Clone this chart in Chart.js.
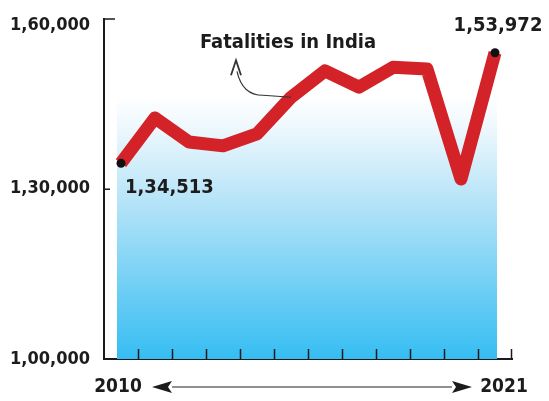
<!DOCTYPE html>
<html>
<head>
<meta charset="utf-8">
<script src="https://cdn.jsdelivr.net/npm/chart.js@4.4.1/dist/chart.umd.min.js"></script>
<style>
  html, body { margin: 0; padding: 0; background: #fff; }
  #wrap { width: 549px; height: 401px; position: relative; }
</style>
</head>
<body>
<div id="wrap"><canvas id="fatalChart"></canvas></div>
<script>
const years = ['2010', '2011', '2012', '2013', '2014', '2015', '2016', '2017', '2018', '2019', '2020', '2021'];
const fatalities = [134513, 142485, 138258, 137572, 139671, 146133, 150785, 147913, 151417, 151113, 131714, 153972];
const yTicks = [100000, 130000, 160000];
const seriesTitle = 'Fatalities in India';

const FONT = '"DejaVu Sans Condensed", "DejaVu Sans", sans-serif';
const INK = '#1c1c1c';

// indian digit grouping: 1,34,513
function inr(n) {
  const s = String(Math.round(n));
  const last3 = s.slice(-3);
  const rest = s.slice(0, -3);
  return rest ? rest.replace(/\B(?=(\d{2})+(?!\d))/g, ',') + ',' + last3 : last3;
}

const decor = {
  id: 'decor',
  beforeDatasetsDraw(chart) {
    const { ctx, chartArea, scales: { x } } = chart;
    const x0 = x.getPixelForValue(0) - 4;
    const x1 = x.getPixelForValue(years.length - 1) + 2;
    const top = 95;
    const g = ctx.createLinearGradient(0, top, 0, chartArea.bottom);
    g.addColorStop(0, 'rgba(255,255,255,1)');
    g.addColorStop(0.12, '#eef8fd');
    g.addColorStop(0.4, '#b6e4f8');
    g.addColorStop(1, '#36bdf2');
    ctx.save();
    ctx.fillStyle = g;
    ctx.fillRect(x0, top, x1 - x0, chartArea.bottom - top);
    ctx.restore();
  },
  afterDatasetsDraw(chart) {
    const { ctx, chartArea, scales: { x, y } } = chart;
    const last = years.length - 1;
    ctx.save();

    // inward ticks on both axes
    ctx.strokeStyle = '#1b1b1b';
    ctx.lineWidth = 1.5;
    ctx.beginPath();
    for (let i = 0; i < last; i++) {
      const tx = Math.round((x.getPixelForValue(i) + x.getPixelForValue(i + 1)) / 2) + 0.5;
      ctx.moveTo(tx, chartArea.bottom);
      ctx.lineTo(tx, chartArea.bottom - 10);
    }
    ctx.moveTo(chartArea.right - 0.5, chartArea.bottom);
    ctx.lineTo(chartArea.right - 0.5, chartArea.bottom - 10);
    ctx.moveTo(chartArea.left, y.getPixelForValue(yTicks[2]) + 0.5);
    ctx.lineTo(chartArea.left + 11, y.getPixelForValue(yTicks[2]) + 0.5);
    ctx.moveTo(chartArea.left, y.getPixelForValue(yTicks[1]) + 0.5);
    ctx.lineTo(chartArea.left + 6, y.getPixelForValue(yTicks[1]) + 0.5);
    ctx.stroke();

    // end value labels
    ctx.fillStyle = INK;
    ctx.font = 'bold 20px ' + FONT;
    ctx.textBaseline = 'middle';
    ctx.textAlign = 'left';
    ctx.fillText(inr(fatalities[0]), x.getPixelForValue(0) + 4, y.getPixelForValue(fatalities[0]) + 25);
    ctx.textAlign = 'center';
    ctx.fillText(inr(fatalities[last]), x.getPixelForValue(last) + 3, y.getPixelForValue(fatalities[last]) - 27);

    // series annotation with curved pointer
    const ax = x.getPixelForValue(5);
    const ay = y.getPixelForValue(fatalities[5]);
    ctx.font = 'bold 20px ' + FONT;
    ctx.textAlign = 'center';
    ctx.fillText(seriesTitle, ax - 3, ay - 54);
    ctx.strokeStyle = '#333';
    ctx.lineWidth = 1.2;
    ctx.beginPath();
    ctx.moveTo(ax - 54, ay - 26);
    ctx.bezierCurveTo(ax - 50, ay - 8, ax - 40, ay - 2, ax - 28, ay - 2);
    ctx.lineTo(ax, ay);
    ctx.stroke();
    ctx.lineWidth = 1.8;
    ctx.beginPath();
    ctx.moveTo(ax - 60, ay - 22);
    ctx.lineTo(ax - 55, ay - 37);
    ctx.lineTo(ax - 50, ay - 22);
    ctx.stroke();

    // timeline arrow under the axis
    const ly = chartArea.bottom + 28;
    const lx0 = x.getPixelForValue(0) + 51;
    const lx1 = x.getPixelForValue(last) - 43;
    ctx.fillStyle = INK;
    ctx.strokeStyle = '#222';
    ctx.lineWidth = 1.2;
    ctx.beginPath();
    ctx.moveTo(lx0, ly);
    ctx.lineTo(lx1, ly);
    ctx.stroke();
    ctx.beginPath();
    ctx.moveTo(lx0 - 20, ly);
    ctx.lineTo(lx0, ly - 6);
    ctx.lineTo(lx0 - 4, ly);
    ctx.lineTo(lx0, ly + 6);
    ctx.closePath();
    ctx.fill();
    ctx.beginPath();
    ctx.moveTo(lx1 + 20, ly);
    ctx.lineTo(lx1, ly - 6);
    ctx.lineTo(lx1 + 4, ly);
    ctx.lineTo(lx1, ly + 6);
    ctx.closePath();
    ctx.fill();
    ctx.font = 'bold 19px ' + FONT;
    ctx.textAlign = 'center';
    ctx.fillText(years[0], x.getPixelForValue(0) - 3, ly);
    ctx.fillText(years[last], x.getPixelForValue(last) + 9, ly);

    ctx.restore();
  }
};

new Chart(document.getElementById('fatalChart'), {
  type: 'line',
  data: {
    labels: years,
    datasets: [{
      label: seriesTitle,
      data: fatalities,
      borderColor: '#d42229',
      borderWidth: 13,
      borderJoinStyle: 'round',
      tension: 0,
      fill: false,
      pointRadius: c => (c.dataIndex === 0 || c.dataIndex === fatalities.length - 1) ? 4.5 : 0,
      pointBackgroundColor: '#111',
      pointBorderWidth: 0
    }]
  },
  options: {
    responsive: true,
    maintainAspectRatio: false,
    animation: false,
    layout: { padding: { left: 0, right: 37, top: 17, bottom: 0 } },
    plugins: { legend: { display: false }, tooltip: { enabled: false } },
    scales: {
      x: {
        type: 'category',
        offset: true,
        grid: { display: false },
        ticks: { display: false },
        border: { display: true, color: '#1b1b1b', width: 2 },
        afterFit: s => { s.height = 42; }
      },
      y: {
        min: 100000,
        max: 160000,
        afterBuildTicks: s => { s.ticks = yTicks.map(v => ({ value: v })); },
        grid: { display: false },
        border: { display: true, color: '#1b1b1b', width: 2 },
        ticks: {
          padding: 6,
          color: INK,
          font: { family: FONT, size: 18, weight: 'bold', lineHeight: 0.7 },
          // top label sits just under the axis end, as in the print
          callback: v => v === yTicks[2] ? ['', inr(v)] : inr(v)
        },
        afterFit: s => { s.width = 104; }
      }
    }
  },
  plugins: [decor]
});
</script>
</body>
</html>
